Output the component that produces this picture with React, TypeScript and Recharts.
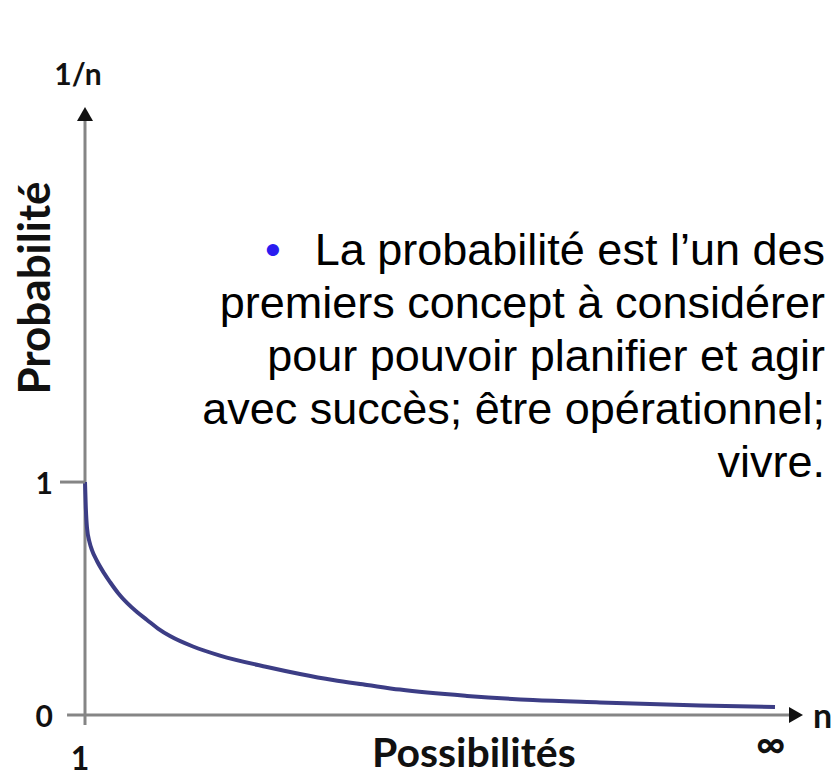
import React from 'react';
import { LineChart, Line, XAxis, YAxis, ReferenceLine, ReferenceDot, Label } from 'recharts';

// n (position along the possibilities axis) and the 1/n probability
const possibilities = [0, 0.1, 0.28, 0.63, 0.97, 1.67, 2.65, 3.48, 4.6, 5.85, 7.24, 8.64, 10.17, 11.84, 15.04, 18.8, 25.35, 29.94, 34.54, 39.28, 43.87, 53.2, 62.4, 71.7, 85.65, 96.1];
const probability = [1.0, 0.901, 0.803, 0.742, 0.708, 0.661, 0.609, 0.571, 0.524, 0.481, 0.442, 0.408, 0.371, 0.339, 0.294, 0.255, 0.206, 0.176, 0.15, 0.129, 0.109, 0.082, 0.064, 0.054, 0.041, 0.034];

const xTicks = [0, 95.5];
const xTickLabels = ['1', '∞'];
const yTicks = [0, 1];
const yTickLabels = ['0', '1'];

const bulletLines = [
  'La probabilité est l’un des',
  'premiers concept à considérer',
  'pour pouvoir planifier et agir',
  'avec succès; être opérationnel;',
  'vivre.',
];

const X_MAX = 100;
const Y_MAX = 2.61;
const AXIS = '#858585';
const CURVE = '#3c3d85';
const BOLD = 'Lato, "Open Sans", sans-serif';

const data = possibilities.map((n, i) => ({ n, p: probability[i] }));

function XTick({ x, y, payload }: any) {
  const i = xTicks.indexOf(payload.value);
  const isInf = i === 1;
  return (
    <text
      x={isInf ? x : x - 5}
      y={y + (isInf ? 28 : 42)}
      textAnchor="middle"
      dominantBaseline="central"
      fontFamily={BOLD}
      fontWeight={700}
      fontSize={isInf ? 40 : 32}
      fill="#111"
    >
      {xTickLabels[i]}
    </text>
  );
}

function YTick({ x, y, payload }: any) {
  const i = yTicks.indexOf(payload.value);
  return (
    <g>
      {payload.value === 1 && (
        <line x1={x + 7} x2={x + 32} y1={y} y2={y} stroke={AXIS} strokeWidth={3} />
      )}
      <text
        x={x}
        y={y}
        textAnchor="end"
        dominantBaseline="central"
        fontFamily={BOLD}
        fontWeight={700}
        fontSize={30}
        fill="#111"
      >
        {yTickLabels[i]}
      </text>
    </g>
  );
}

const arrowRight = ({ cx, cy }: any) => (
  <polygon points={`${cx},${cy} ${cx - 14},${cy - 8} ${cx - 14},${cy + 8}`} fill="#111" />
);
const arrowUp = ({ cx, cy }: any) => (
  <polygon points={`${cx},${cy} ${cx - 8},${cy + 14} ${cx + 8},${cy + 14}`} fill="#111" />
);

export default function App() {
  return (
    <div style={{ position: 'absolute', left: 0, top: 0, width: 834, height: 776, background: '#fff', overflow: 'hidden' }}>
      <LineChart width={834} height={776} data={data} margin={{ top: 107, right: 31, bottom: 0, left: 0 }}>
        <XAxis
          dataKey="n"
          type="number"
          domain={[0, X_MAX]}
          ticks={xTicks}
          height={61}
          axisLine={false}
          tickLine={false}
          tickSize={0}
          tickMargin={0}
          tick={<XTick />}
          interval={0}
        >
          <Label
            content={({ viewBox }: any) => (
              <text x={viewBox.x + 287} y={viewBox.y + 52} fontFamily={BOLD} fontWeight={700} fontSize={41} fill="#111">
                Possibilités
              </text>
            )}
          />
          <Label
            content={({ viewBox }: any) => (
              <text x={viewBox.x + viewBox.width + 10} y={viewBox.y + 13} fontFamily={BOLD} fontWeight={700} fontSize={34} fill="#111">
                n
              </text>
            )}
          />
        </XAxis>
        <YAxis
          type="number"
          domain={[0, Y_MAX]}
          ticks={yTicks}
          width={85}
          axisLine={false}
          tickLine={false}
          tickSize={25}
          tickMargin={7}
          tick={<YTick />}
          interval={0}
        >
          <Label
            content={({ viewBox }: any) => {
              const cx = 50;
              const cy = viewBox.y + 181;
              return (
                <text
                  x={cx}
                  y={cy}
                  textAnchor="middle"
                  transform={`rotate(-90, ${cx}, ${cy})`}
                  fontFamily={BOLD}
                  fontWeight={700}
                  fontSize={44}
                  fill="#111"
                >
                  Probabilité
                </text>
              );
            }}
          />
          <Label
            content={({ viewBox }: any) => (
              <text x={78} y={viewBox.y - 22} textAnchor="middle" fontFamily={BOLD} fontWeight={700} fontSize={30} fill="#111">
                1/n
              </text>
            )}
          />
        </YAxis>

        <ReferenceLine
          segment={[{ x: -2.5, y: 0 }, { x: 98.5, y: 0 }]}
          stroke={AXIS}
          strokeWidth={3}
          ifOverflow="visible"
        />
        <ReferenceLine
          segment={[{ x: 0, y: -0.043 }, { x: 0, y: 2.56 }]}
          stroke={AXIS}
          strokeWidth={3}
          ifOverflow="visible"
        />
        <ReferenceDot x={X_MAX} y={0} ifOverflow="visible" shape={arrowRight} />
        <ReferenceDot x={0} y={Y_MAX} ifOverflow="visible" shape={arrowUp} />

        <Line
          type="monotone"
          dataKey="p"
          stroke={CURVE}
          strokeWidth={4}
          dot={false}
          activeDot={false}
          isAnimationActive={false}
        />
      </LineChart>

      <svg width={834} height={776} style={{ position: 'absolute', left: 0, top: 0, pointerEvents: 'none' }}>
        {bulletLines.map((line, i) => (
          <text
            key={i}
            x={825}
            y={265 + i * 53}
            textAnchor="end"
            fontFamily='"Liberation Sans", Arial, sans-serif'
            fontSize={45}
            fill="#000"
          >
            {i === 0 && <tspan fill="#2a1cf0">•</tspan>}
            <tspan dx={i === 0 ? 34 : 0}>{line}</tspan>
          </text>
        ))}
      </svg>
    </div>
  );
}
